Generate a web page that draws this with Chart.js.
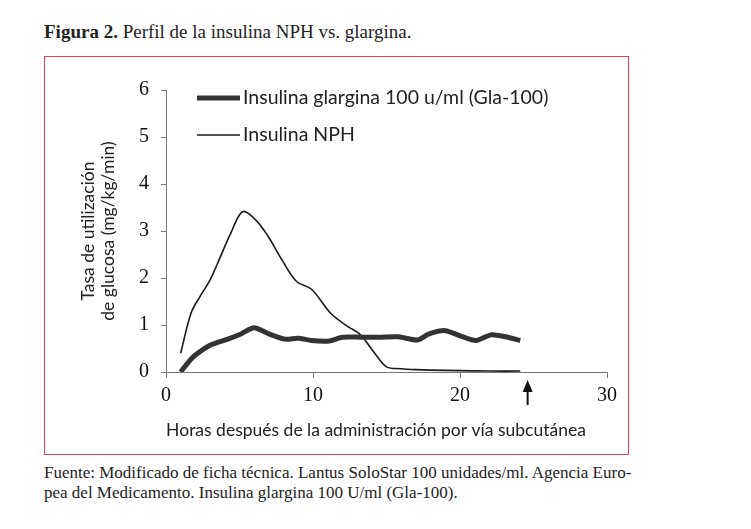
<!DOCTYPE html>
<html>
<head>
<meta charset="utf-8">
<script src="https://cdn.jsdelivr.net/npm/chart.js@4"></script>
<style>
  body { margin: 0; background: #fff; }
  #pagina { position: relative; width: 751px; height: 529px; }
  #titulo { position: absolute; left: 44px; top: 21px; font: 19px "Liberation Serif", serif; color: #222; }
  #caja { position: absolute; left: 44px; top: 56px; width: 585px; height: 399px; border: 1.5px solid #e4404f; box-sizing: border-box; }
  #fuente { position: absolute; left: 44px; top: 463px; font: 17px/20px "Liberation Serif", serif; color: #222; }
  canvas { position: absolute; left: 0; top: 0; }
</style>
</head>
<body>
<div id="pagina">
  <div id="titulo"><b>Figura 2.</b> Perfil de la insulina NPH vs. glargina.</div>
  <div id="caja"></div>
  <div id="fuente">Fuente: Modificado de ficha técnica. Lantus SoloStar 100 unidades/ml. Agencia Euro-<br>pea del Medicamento. Insulina glargina 100 U/ml (Gla-100).</div>
  <canvas id="myChart" width="751" height="529"></canvas>
</div>
<script>
const nombres = ['Insulina glargina 100 u/ml (Gla-100)', 'Insulina NPH']

const horasGla = [1, 1.5, 2, 3, 4.2, 5.1, 6, 7, 8.1, 9, 9.9, 11.1, 12, 13.3, 14.5, 15.8, 17.1, 17.9, 19, 20, 21.1, 22.1, 23.1, 24.1]
const valoresGla = [0, 0.2, 0.36, 0.57, 0.70, 0.81, 0.94, 0.81, 0.70, 0.72, 0.67, 0.66, 0.74, 0.74, 0.74, 0.75, 0.68, 0.81, 0.88, 0.77, 0.67, 0.79, 0.75, 0.67]

const horasNPH = [1, 1.7, 2.3, 3, 3.7, 4.4, 5.2, 6, 6.9, 7.9, 8.9, 9.9, 11.2, 12.4, 13.2, 14.2, 15, 16, 17, 18, 20, 22, 24.1]
const valoresNPH = [0.40, 1.25, 1.6, 1.96, 2.45, 2.95, 3.41, 3.27, 2.91, 2.38, 1.92, 1.76, 1.25, 0.96, 0.80, 0.40, 0.11, 0.07, 0.05, 0.04, 0.03, 0.02, 0.02]

const ticksX = [0, 10, 20, 30]
const ticksY = [0, 1, 2, 3, 4, 5, 6]
const flechaHoras = [24.6]

const tituloY = ['Tasa de utilización', 'de glucosa (mg/kg/min)']
const tituloX = 'Horas después de la administración por vía subcutánea'

function puntos(xs, ys) {
    return xs.map((x, i) => ({ x: x, y: ys[i] }))
}

const extras = {
    id: 'extras',
    afterDraw(chart) {
        const c = chart.ctx
        const area = chart.chartArea
        const sx = chart.scales.x
        c.save()

        // leyenda dentro del grafico
        chart.data.datasets.forEach((ds, i) => {
            let y = area.top + 8 + i * 37
            c.strokeStyle = ds.borderColor
            c.lineWidth = ds.borderWidth
            c.beginPath()
            c.moveTo(area.left + 31, y)
            c.lineTo(area.left + 74, y)
            c.stroke()
            c.fillStyle = '#222'
            c.font = '19.5px Lato'
            c.textBaseline = 'middle'
            c.textAlign = 'left'
            c.fillText(ds.label, area.left + 77, y)
        })

        // titulos de ejes
        c.font = '17.5px Lato'
        c.fillStyle = '#222'
        c.textAlign = 'center'
        c.textBaseline = 'middle'
        c.fillText(tituloX, area.left + 210, 430)
        c.save()
        c.translate(88, (area.top + area.bottom) / 2)
        c.rotate(-Math.PI / 2)
        tituloY.forEach((t, i) => c.fillText(t, 0, i * 20))
        c.restore()

        // flecha bajo el eje
        flechaHoras.forEach(h => {
            let x = sx.getPixelForValue(h)
            let y0 = sx.top + 8
            c.fillStyle = '#111'
            c.beginPath()
            c.moveTo(x, y0)
            c.lineTo(x - 5, y0 + 12)
            c.lineTo(x + 5, y0 + 12)
            c.closePath()
            c.fill()
            c.fillRect(x - 1, y0 + 10, 2, 15)
        })
        c.restore()
    }
}

const ctx = document.getElementById('myChart')

const data = {
    datasets: [{
        label: nombres[0],
        data: puntos(horasGla, valoresGla),
        borderColor: '#333',
        borderWidth: 5,
        pointRadius: 0,
        tension: 0.25
    }, {
        label: nombres[1],
        data: puntos(horasNPH, valoresNPH),
        borderColor: '#1a1a1a',
        borderWidth: 1.6,
        pointRadius: 0,
        tension: 0.35
    }]
}

const config = {
    type: 'line',
    data: data,
    options: {
        responsive: false,
        animation: false,
        layout: { padding: { left: 0, right: 144, top: 90, bottom: 0 } },
        plugins: { legend: { display: false }, tooltip: { enabled: false } },
        scales: {
            x: {
                type: 'linear',
                min: 0,
                max: 30,
                afterBuildTicks: s => { s.ticks = ticksX.map(v => ({ value: v })) },
                afterFit: s => { s.height = 157 },
                grid: { drawOnChartArea: false, color: '#777', tickLength: 6 },
                border: { color: '#777', width: 1 },
                ticks: { color: '#111', padding: 6, font: { family: 'Liberation Serif', size: 20 } }
            },
            y: {
                min: 0,
                max: 6,
                afterBuildTicks: s => { s.ticks = ticksY.map(v => ({ value: v })) },
                afterFit: s => { s.width = 166 },
                grid: { drawOnChartArea: false, color: '#777', tickLength: 5 },
                border: { color: '#777', width: 1 },
                ticks: { color: '#111', padding: 12, font: { family: 'Liberation Serif', size: 20 } }
            }
        }
    },
    plugins: [extras]
}

const myChart = new Chart(ctx, config)
</script>
</body>
</html>
